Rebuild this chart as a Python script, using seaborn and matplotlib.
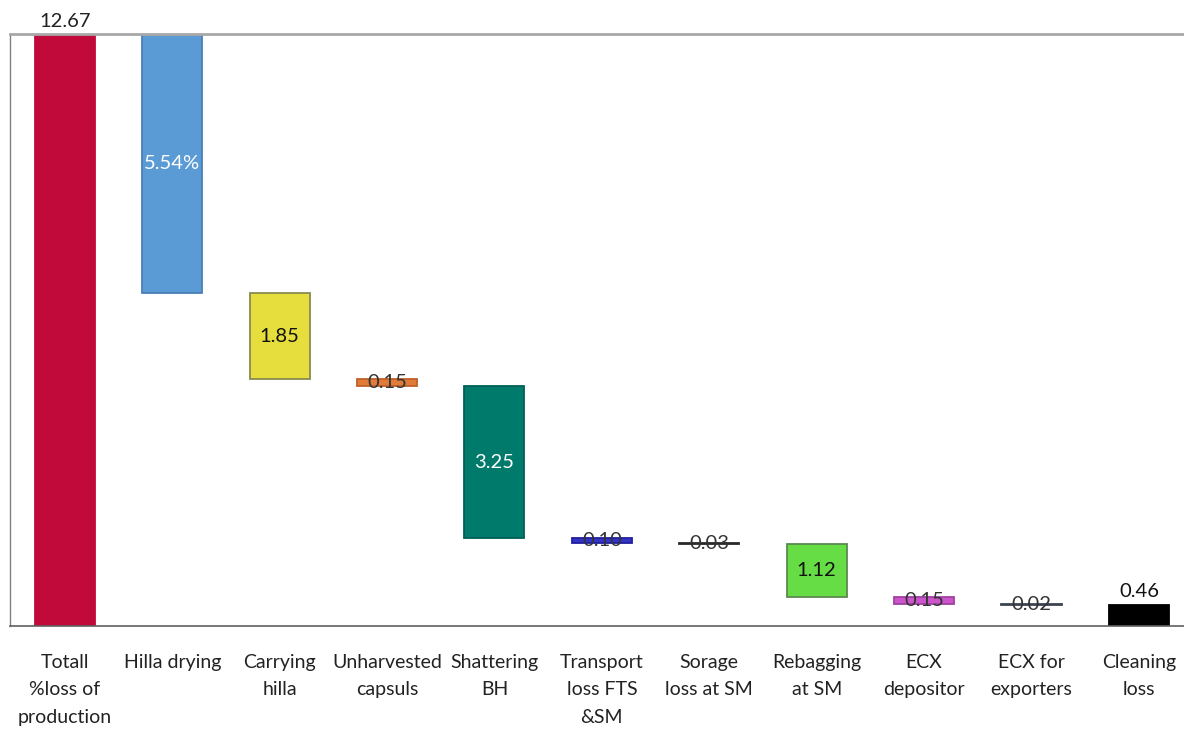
import numpy as np
import pandas as pd
import matplotlib
matplotlib.use("Agg")
import matplotlib.pyplot as plt
import seaborn as sns

# chart data
categories = ["Totall\n%loss of\nproduction", "Hilla drying", "Carrying\nhilla",
              "Unharvested\ncapsuls", "Shattering\nBH", "Transport\nloss FTS\n&SM",
              "Sorage\nloss at SM", "Rebagging\nat SM", "ECX\ndepositor",
              "ECX for\nexporters", "Cleaning\nloss"]
losses = [12.67, 5.54, 1.85, 0.15, 3.25, 0.10, 0.03, 1.12, 0.15, 0.02, 0.46]
value_labels = ["12.67", "5.54%", "1.85", "0.15", "3.25", "0.10", "0.03",
                "1.12", "0.15", "0.02", "0.46"]
bar_colors = ["#C20A3A", "#5B9BD5", "#E6DE3C", "#E07B39", "#007A6A", "#3333C4",
              "#2A2A2A", "#66DD44", "#CC55CC", "#3E4352", "#000000"]
edge_colors = ["#C20A3A", "#4A7FB5", "#8A8A50", "#C06028", "#006055", "#2020A0",
               "#2A2A2A", "#5A8A50", "#A040A0", "#3E4352", "#000000"]
label_colors = ["#222222", "white", "#111111", "#333333", "white", "#333333",
                "#333333", "#111111", "#333333", "#333333", "#111111"]

# waterfall bases: total starts at 0, each step hangs down from the remaining loss
tops = [losses[0]]
bottoms = [0.0]
remaining = losses[0]
for v in losses[1:]:
    tops.append(remaining)
    remaining = remaining - v
    bottoms.append(remaining)
heights = [t - b for t, b in zip(tops, bottoms)]

df = pd.DataFrame({"category": categories, "height": heights, "bottom": bottoms})

plt.rcParams["font.family"] = ["Lato", "DejaVu Sans"]

fig = plt.figure(figsize=(11.84, 7.30), dpi=100)
ax = fig.add_axes([10 / 1184, 1 - 626 / 730, 1 - 10 / 1184, 592 / 730])

# one bar call so the bottom array lines up with the categories
sns.barplot(data=df, x="category", y="height", color="gray", saturation=1,
            width=0.56, bottom=df["bottom"].values, ax=ax)

for patch, fc, ec in zip(ax.patches, bar_colors, edge_colors):
    patch.set_facecolor(fc)
    patch.set_edgecolor(ec)
    patch.set_linewidth(1.3)

# value labels
for i, (lab, b, t, c) in enumerate(zip(value_labels, bottoms, tops, label_colors)):
    if i == 0 or i == len(value_labels) - 1:
        ax.annotate(lab, (i, t), xytext=(0, 3), textcoords="offset points",
                    ha="center", va="bottom", fontsize=14.5, color=c)
    else:
        ax.text(i, (b + t) / 2, lab, ha="center", va="center",
                fontsize=14.5, color=c)

ax.set_ylim(0, losses[0])
ax.set_xlim(-0.51, 10.42)
ax.set_xlabel("")
ax.set_ylabel("")
ax.set_yticks([])
ax.tick_params(axis="x", length=0, pad=20, labelsize=14, labelcolor="#222222")
for lbl in ax.get_xticklabels():
    lbl.set_linespacing(1.75)

ax.spines["right"].set_visible(False)
ax.spines["left"].set_color("#808080")
ax.spines["left"].set_linewidth(1.0)
ax.spines["top"].set_color("#A8A8A8")
ax.spines["top"].set_linewidth(2.0)
ax.spines["bottom"].set_color("#606060")
ax.spines["bottom"].set_linewidth(1.2)

fig.savefig("out.png", dpi=100)
